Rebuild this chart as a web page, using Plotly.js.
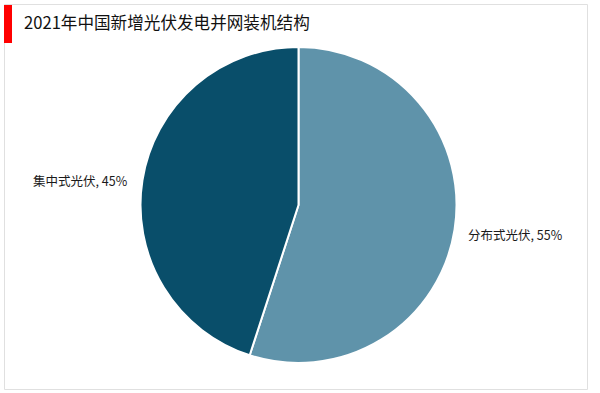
<!DOCTYPE html>
<html>
<head>
<meta charset="utf-8">
<script src="https://cdn.plot.ly/plotly-3.0.1.min.js"></script>
<style>
  html, body { margin: 0; padding: 0; background: #ffffff; }
  #chart { width: 600px; height: 393px; }
</style>
</head>
<body>
<div id="chart"></div>
<script>
// 2021年新增光伏发电并网装机结构（占比 %）
const categories = ['分布式光伏', '集中式光伏'];
const shares = [55, 45];
const sliceColors = ['#5f93aa', '#094e6a'];

const W = 600, H = 393;
const px = (x) => x / W;
const py = (y) => 1 - y / H;

const font = '"Noto Sans CJK SC", "Microsoft YaHei", sans-serif';

const trace = {
  type: 'pie',
  labels: categories,
  values: shares,
  sort: false,
  direction: 'clockwise',
  rotation: 0,
  textinfo: 'none',
  hoverinfo: 'label+percent',
  marker: { colors: sliceColors, line: { color: '#ffffff', width: 2 } },
  domain: { x: [px(140), px(457)], y: [py(363), py(47)] },
  showlegend: false
};

// caption positions (page pixels) for each slice
const labelPos = [[515, 235], [80, 180]];
const annotations = categories.map((c, i) => ({
  text: c + ', ' + shares[i] + '%',
  x: px(labelPos[i][0]), y: py(labelPos[i][1]),
  xref: 'paper', yref: 'paper',
  xanchor: 'center', yanchor: 'middle',
  showarrow: false,
  font: { family: font, size: 12.5, color: '#1a1a1a' }
}));

annotations.push({
  text: '2021年中国新增光伏发电并网装机结构',
  x: px(22), y: py(22),
  xref: 'paper', yref: 'paper',
  xanchor: 'left', yanchor: 'middle',
  showarrow: false,
  font: { family: font, size: 16.6, color: '#111111' }
});

const layout = {
  width: W, height: H,
  margin: { l: 0, r: 0, t: 0, b: 0 },
  paper_bgcolor: '#ffffff',
  annotations: annotations,
  shapes: [
    { type: 'rect', xref: 'paper', yref: 'paper',
      x0: px(4.5), x1: px(587.5), y0: py(389.5), y1: py(4.5),
      line: { color: '#e0e0e0', width: 1 }, fillcolor: 'rgba(0,0,0,0)' },
    { type: 'rect', xref: 'paper', yref: 'paper',
      x0: px(4), x1: px(12), y0: py(43), y1: py(5),
      line: { width: 0 }, fillcolor: '#ff0000' }
  ]
};

Plotly.newPlot('chart', [trace], layout, { staticPlot: true, displayModeBar: false });
</script>
</body>
</html>
